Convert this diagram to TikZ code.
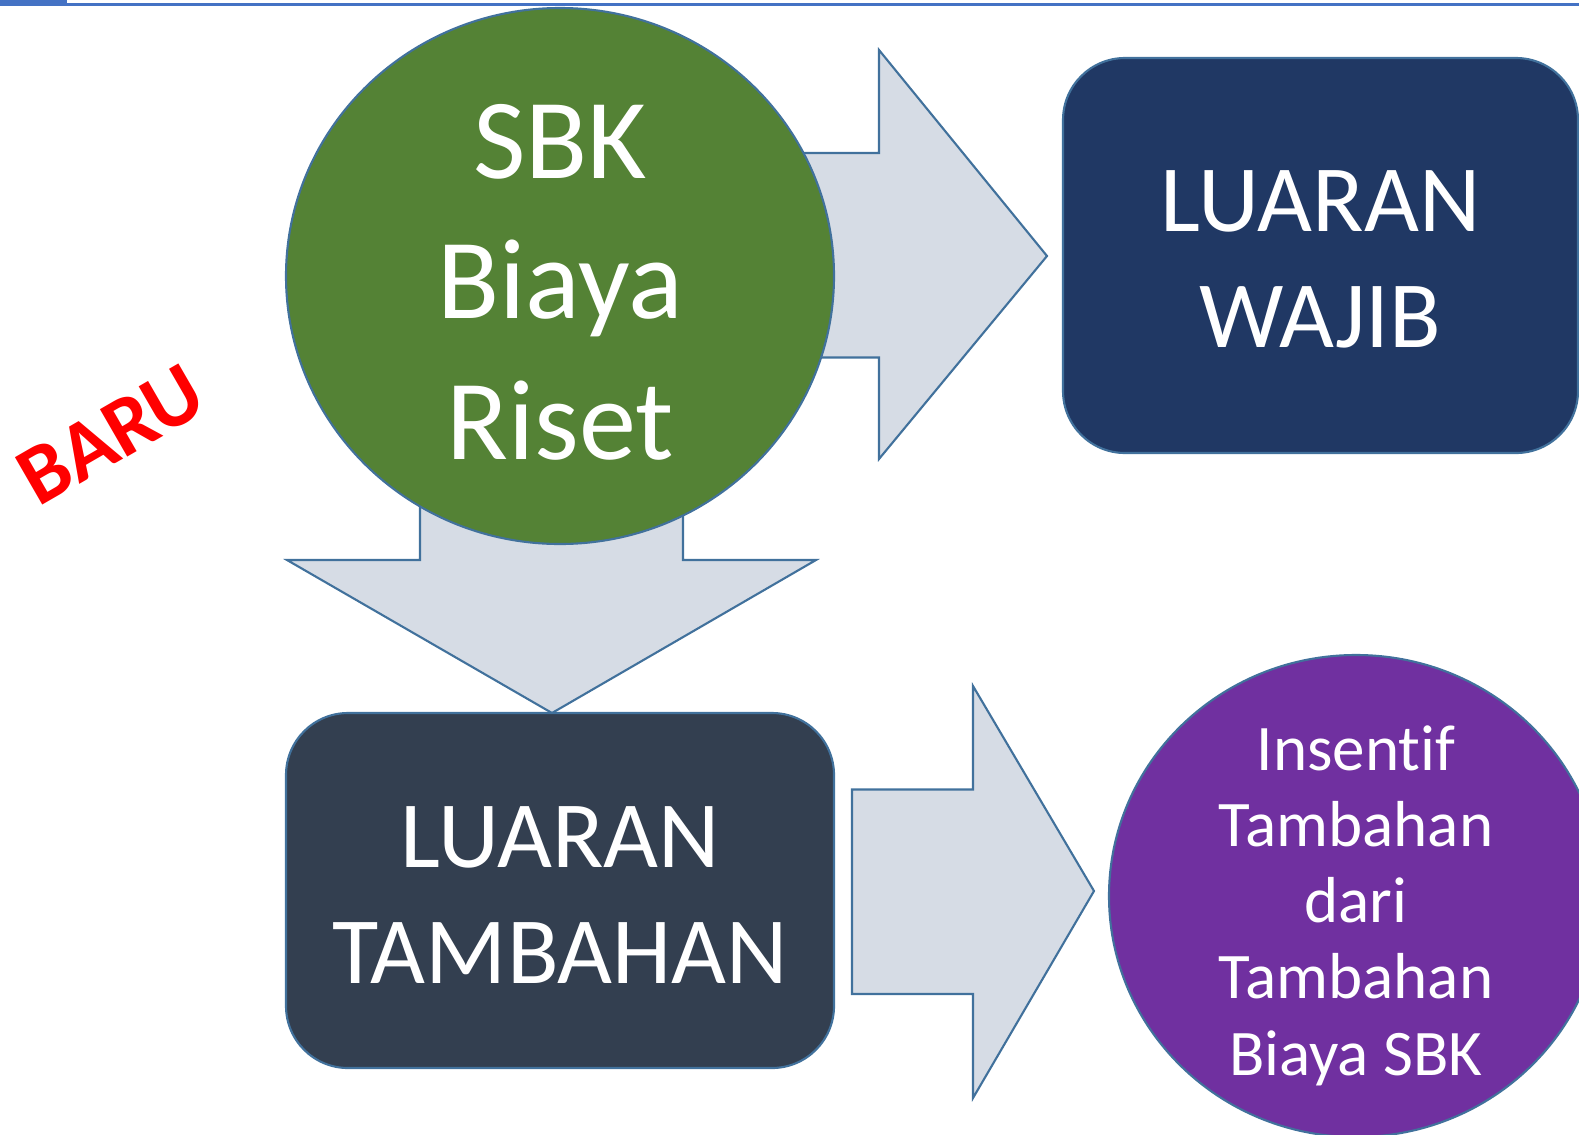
\documentclass[tikz,border=0pt]{standalone}
\usepackage{fontspec}
\setmainfont[Ligatures=CommonOff]{Carlito}
\usepackage{tikz}
\usetikzlibrary{shapes.geometric}
\definecolor{lineblue}{HTML}{41719C}
\definecolor{arrowgray}{HTML}{D6DCE5}
\definecolor{risetgreen}{HTML}{548235}
\definecolor{wajibblue}{HTML}{203864}
\definecolor{tambahslate}{HTML}{333F50}
\definecolor{insentifpurple}{HTML}{7030A0}
\definecolor{topblue}{HTML}{4472C4}
\tikzset{blockarrow/.style={fill=arrowgray, draw=lineblue, line width=0.6pt}}
\tikzset{roundbox/.style={rectangle, rounded corners=0.62cm, draw=lineblue, line width=0.6pt, inner sep=0pt}}
\tikzset{bigdisc/.style={ellipse, draw=lineblue, line width=0.6pt, inner sep=0pt}}
\tikzset{whitetext/.style={text=white, align=center, inner sep=0pt}}

\begin{document}
\begin{tikzpicture}
\useasboundingbox (0,0) rectangle (15.79,-11.34);
\clip (0,0) rectangle (15.79,-11.34);
\fill[topblue] (0,0) rectangle (0.67,-0.06);
\draw[topblue, line width=0.024cm] (0.67,-0.045) -- (15.79,-0.045);
\draw[blockarrow] (7.00,-1.53) -- (8.79,-1.53) -- (8.79,-0.50) -- (10.47,-2.56) -- (8.79,-4.59) -- (8.79,-3.575) -- (7.00,-3.575) -- cycle;
\draw[blockarrow] (4.20,-3.80) -- (4.20,-5.60) -- (2.87,-5.60) -- (5.52,-7.13) -- (8.16,-5.60) -- (6.83,-5.60) -- (6.83,-3.80) -- cycle;
\draw[blockarrow] (8.52,-7.895) -- (9.73,-7.895) -- (9.73,-6.86) -- (10.94,-8.91) -- (9.73,-10.98) -- (9.73,-9.94) -- (8.52,-9.94) -- cycle;
\node[bigdisc, fill=risetgreen, minimum width=5.48cm, minimum height=5.36cm] (riset) at (5.60,-2.76) {};
\node[whitetext, font=\fontsize{32.5}{40}\selectfont] (risetlabel) at ([yshift=-0.06cm]riset.center) {SBK\\Biaya\\Riset};
\node[roundbox, fill=wajibblue, minimum width=5.15cm, minimum height=3.95cm] (wajib) at (13.205,-2.555) {};
\node[whitetext, font=\fontsize{27}{33}\selectfont] (wajiblabel) at ([yshift=-0.04cm]wajib.center) {LUARAN\\WAJIB};
\node[roundbox, fill=tambahslate, minimum width=5.48cm, minimum height=3.55cm] (tambahan) at (5.60,-8.905) {};
\node[whitetext, font=\fontsize{27}{33}\selectfont] (tambahanlabel) at ([yshift=-0.05cm]tambahan.center) {LUARAN\\TAMBAHAN};
\node[bigdisc, fill=insentifpurple, minimum width=4.94cm, minimum height=4.82cm] (insentif) at (13.56,-8.96) {};
\node[whitetext, font=\fontsize{18.5}{21.7}\selectfont] (insentiflabel) at ([yshift=-0.095cm]insentif.center) {Insentif\\Tambahan\\dari\\Tambahan\\Biaya SBK};
\node[text=red, font=\bfseries\fontsize{24}{28}\selectfont, rotate=30] (baru) at (1.11,-4.35) {BARU};
\end{tikzpicture}
\end{document}
